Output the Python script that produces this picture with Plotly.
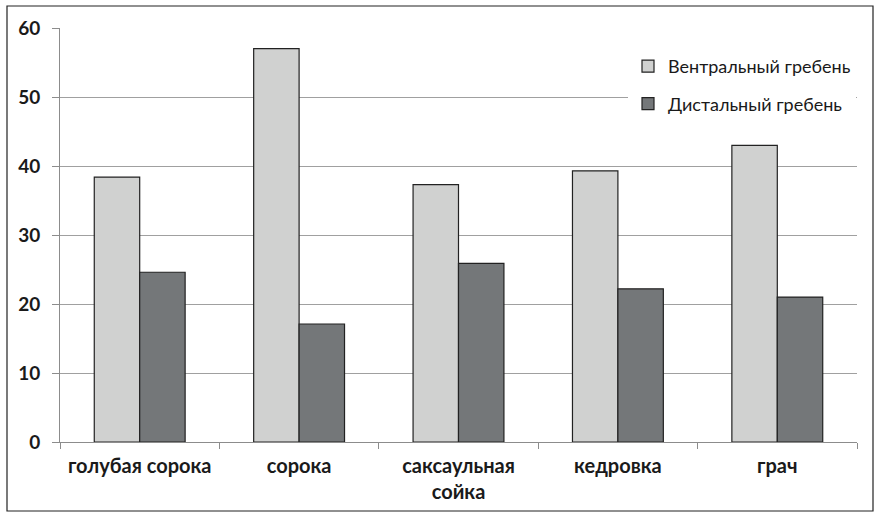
import plotly.graph_objects as go

categories = ["голубая сорока", "сорока", "саксаульная<br>сойка", "кедровка", "грач"]
ventral = [38.4, 57.0, 37.3, 39.3, 43.0]
distal = [24.6, 17.1, 25.9, 22.2, 21.0]
series_names = ["Вентральный гребень", "Дистальный гребень"]
y_ticks = [0, 10, 20, 30, 40, 50, 60]

fig = go.Figure()
fig.add_trace(go.Bar(
    x=categories, y=ventral, name=series_names[0], legendgroup="a",
    marker=dict(color="#d0d1d0", line=dict(color="#222222", width=1.2)),
))
fig.add_trace(go.Bar(
    x=categories, y=distal, name=series_names[1], legendgroup="b",
    marker=dict(color="#747779", line=dict(color="#222222", width=1.2)),
))

W, H = 875, 512
ml, mr, mt, mb = 60, 18, 28, 70
pw, ph = W - ml - mr, H - mt - mb

def px(x):
    return (x - ml) / pw

def py(y):
    return (H - mb - y) / ph

fig.update_layout(
    width=W, height=H,
    margin=dict(l=ml, r=mr, t=mt, b=mb),
    paper_bgcolor="white", plot_bgcolor="white",
    barmode="group", bargap=0.43, bargroupgap=0,
    font=dict(family="Lato", color="#1a1a1a"),
    showlegend=True,
    legend=dict(
        x=px(628), y=py(48), xanchor="left", yanchor="top",
        bgcolor="white", font=dict(size=18, family="Lato", color="#1a1a1a"),
        tracegroupgap=11, traceorder="grouped",
        itemwidth=30,
    ),
    shapes=[dict(
        type="rect", xref="paper", yref="paper",
        x0=px(7), x1=px(873), y0=py(511), y1=py(6),
        line=dict(color="#222222", width=1.2), fillcolor="rgba(0,0,0,0)",
        layer="above",
    )],
)

fig.update_xaxes(
    automargin=False,
    showline=True, linecolor="#8c8c8c", linewidth=1,
    ticks="outside", tickson="boundaries", ticklen=6, tickcolor="#8c8c8c",
    tickfont=dict(size=20, family="Lato", color="#1a1a1a", weight="bold"),
    ticklabelstandoff=6,
)
fig.update_yaxes(
    automargin=False,
    range=[0, 60], tickvals=y_ticks,
    showline=True, linecolor="#8c8c8c", linewidth=1,
    ticks="outside", ticklen=7, tickcolor="#8c8c8c",
    showgrid=True, gridcolor="#a0a0a0", gridwidth=1,
    tickfont=dict(size=19, family="Lato", color="#1a1a1a", weight="bold"),
    ticklabelstandoff=8,
    zeroline=False,
)

fig.write_html("out.html")
